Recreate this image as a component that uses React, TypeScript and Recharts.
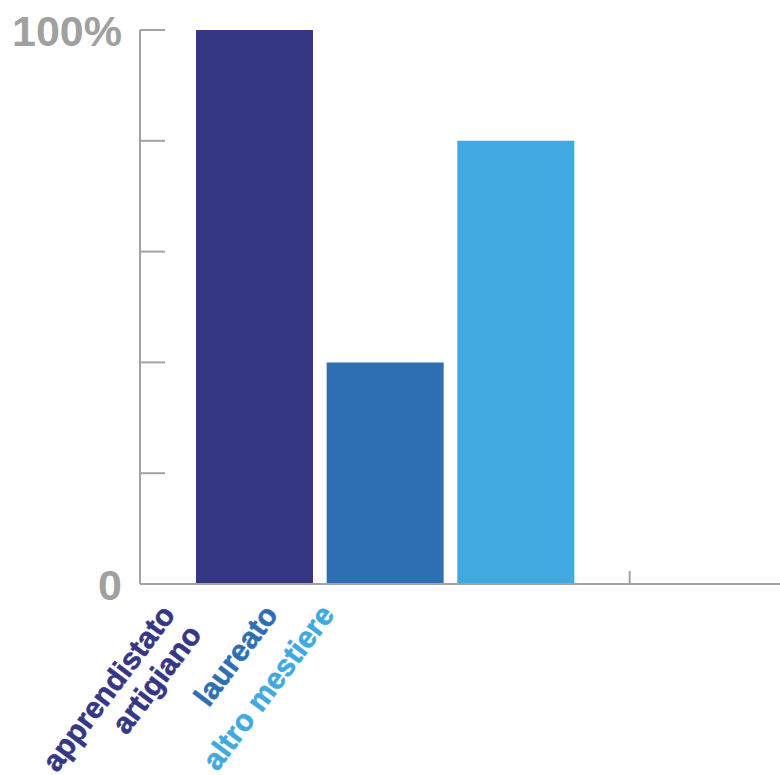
import { BarChart, Bar, XAxis, YAxis, Cell } from 'recharts';

const CATEGORIES = ['apprendistato\nartigiano', 'laureato', 'altro mestiere'];
const VALUES = [100, 40, 80];
const Y_TICKS = [0, 20, 40, 60, 80, 100];
const Y_LABELS: Record<number, string> = { 0: '0', 100: '100%' };

const COLORS = ['#363784', '#2e6fb4', '#40a9e0'];
const AXIS = '#a3a3a3';
const FONT = '"Liberation Sans", Arial, sans-serif';

// where each rotated label ends, relative to its bar centre
const LABEL_SHIFT = [-78, -106, -180];

const data = CATEGORIES.map((name, i) => ({ name, value: VALUES[i] }));

function YTick(props: any) {
  const { x, y, payload } = props;
  const label = Y_LABELS[payload.value];
  return (
    <g>
      <line x1={x} y1={y} x2={x + 25} y2={y} stroke={AXIS} strokeWidth={2} />
      {label && (
        <text
          x={x - 18}
          y={y + 1}
          textAnchor="end"
          dominantBaseline="central"
          fill="#a0a0a0"
          fontFamily={FONT}
          fontWeight="bold"
          fontSize={43}
        >
          {label}
        </text>
      )}
    </g>
  );
}

function XTick(props: any) {
  const { x, y, payload, index } = props;
  const lines = String(payload.value).split('\n');
  const ex = x + LABEL_SHIFT[index];
  const ey = y + 31;
  return (
    <g>
      {index === CATEGORIES.length - 1 && (
        <line x1={x + 114} y1={y - 13} x2={x + 114} y2={y} stroke={AXIS} strokeWidth={2} />
      )}
      <text
        transform={`translate(${ex},${ey}) rotate(-53)`}
        textAnchor="end"
        fill={COLORS[index]}
        stroke={COLORS[index]}
        strokeWidth={0.6}
        fontFamily={FONT}
        fontWeight="bold"
        fontSize={30}
      >
        {lines.map((l, i) => (
          <tspan key={i} x={0} dy={i === 0 ? 0 : 33}>
            {l}
          </tspan>
        ))}
      </text>
    </g>
  );
}

export default function App() {
  return (
    <div style={{ position: 'absolute', left: 0, top: 0, background: '#fff' }}>
      <BarChart
        width={780}
        height={775}
        data={data}
        margin={{ top: 30, right: 0, bottom: 0, left: 0 }}
        barCategoryGap={7}
      >
        <YAxis
          type="number"
          domain={[0, 100]}
          ticks={Y_TICKS}
          width={140}
          axisLine={{ stroke: AXIS, strokeWidth: 2 }}
          tickLine={false}
          tickSize={0}
          tickMargin={0}
          tick={<YTick />}
          interval={0}
        />
        <XAxis
          dataKey="name"
          height={191}
          padding={{ left: 49, right: 199 }}
          axisLine={{ stroke: AXIS, strokeWidth: 2 }}
          tickLine={false}
          tickSize={0}
          tickMargin={0}
          tick={<XTick />}
          interval={0}
        />
        <Bar dataKey="value" isAnimationActive={false}>
          {data.map((_, i) => (
            <Cell key={i} fill={COLORS[i]} />
          ))}
        </Bar>
      </BarChart>
    </div>
  );
}
